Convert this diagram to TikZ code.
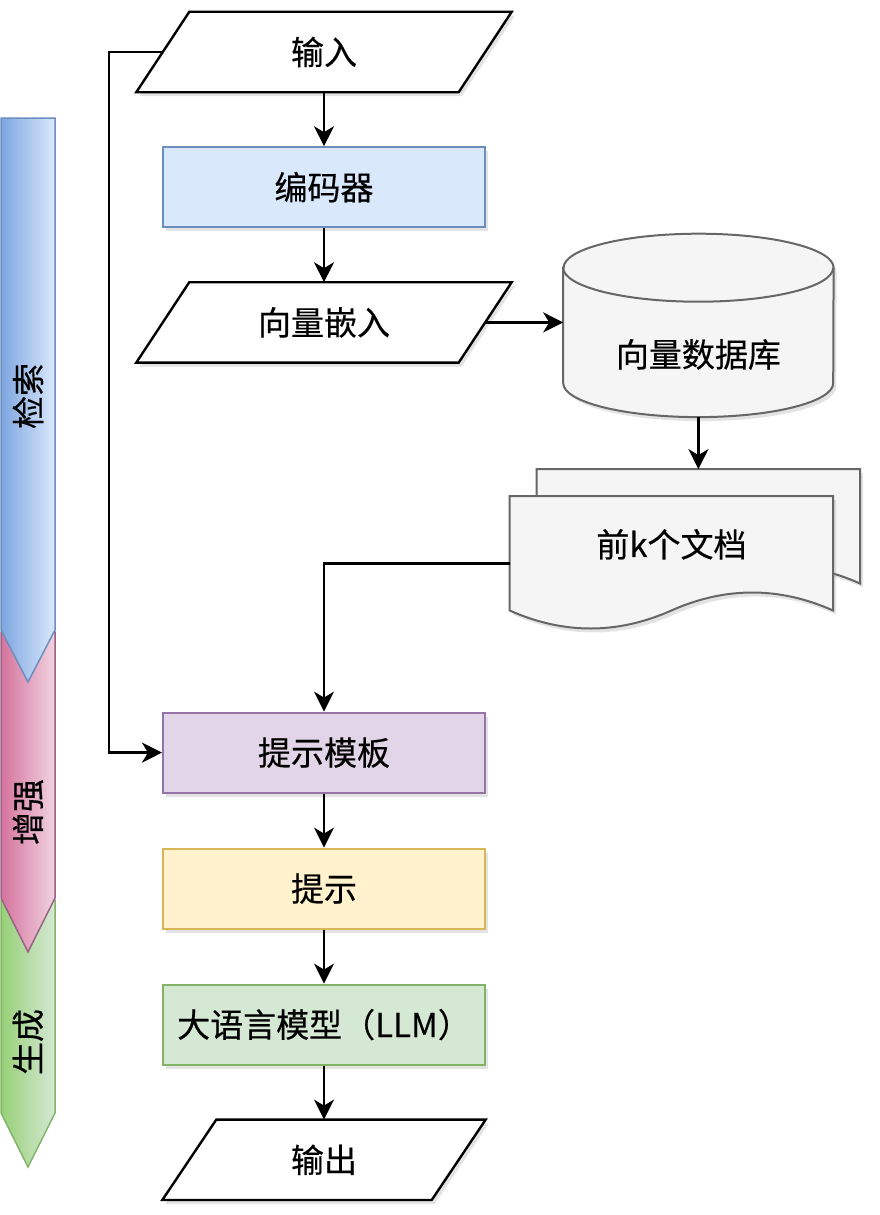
\documentclass[tikz,border=0pt]{standalone}
\usepackage{fontspec}
\setmainfont{Noto Sans CJK SC}[FakeBold=0.4]
\usepackage{xcolor}
\usetikzlibrary{shapes.geometric,arrows.meta,positioning,calc,shadows,backgrounds}

\definecolor{encfill}{HTML}{DAE8FC}
\definecolor{encline}{HTML}{6C8EBF}
\definecolor{tplfill}{HTML}{E1D5E7}
\definecolor{tplline}{HTML}{9673A6}
\definecolor{pmtfill}{HTML}{FFF2CC}
\definecolor{pmtline}{HTML}{D6B656}
\definecolor{llmfill}{HTML}{D5E8D4}
\definecolor{llmline}{HTML}{82B366}
\definecolor{dbfill}{HTML}{F5F5F5}
\definecolor{dbline}{HTML}{666666}
\definecolor{barblue}{HTML}{7EA6E0}
\definecolor{barpink}{HTML}{D5739D}
\definecolor{barpinklt}{HTML}{F0D3E0}
\definecolor{barpinkline}{HTML}{996185}
\definecolor{bargreen}{HTML}{97D077}

\begin{document}
\begin{tikzpicture}[
        x=1pt, y=-1pt,
        node distance=54pt,
        every node/.style={font=\fontsize{33}{38}\selectfont},
        shade/.style={drop shadow={shadow xshift=3pt, shadow yshift=-4pt, opacity=0.22}},
        box/.style={rectangle, draw, line width=2pt, minimum width=322pt, minimum height=80pt, shade},
        io/.style={rectangle, minimum width=322pt, minimum height=80pt},
        ioline/.style={draw, fill=white, line width=2.4pt, line join=miter, shade},
        hidden/.style={rectangle, inner sep=0pt},
        shapeline/.style={draw=dbline, fill=dbfill, line width=2pt, shade},
        bar/.style={line width=1.5pt},
        barlabel/.style={rotate=90},
        arrow/.style={-{Stealth[length=20pt, width=20pt, inset=6pt]}, line width=2.4pt}
    ]
        \useasboundingbox (0,0) rectangle (880,1215);
        % phase bars on the left
        \draw[bar, draw=llmline, left color=bargreen, right color=llmfill]
            (1,900) -- (55,900) -- (55,1113) -- (28,1167) -- (1,1113) -- cycle;
        \draw[bar, draw=barpinkline, left color=barpink, right color=barpinklt]
            (1,632) -- (55,632) -- (55,898) -- (28,952) -- (1,898) -- cycle;
        \draw[bar, draw=encline, left color=barblue, right color=encfill]
            (1,118) -- (55,118) -- (55,630) -- (28,682) -- (1,630) -- cycle;
        \node[barlabel] (retrieve) at (28,396) {检索};
        \node[barlabel] (augment) at (28,812) {增强};
        \node[barlabel] (generate) at (28,1042) {生成};
        % main flow
        \node[io] (input) at (324,52) {输入};
        \node[box, fill=encfill, draw=encline, below=of input] (encoder) {编码器};
        \node[io, below=of encoder] (embed) {向量嵌入};
        \node[hidden, minimum width=270pt, minimum height=183pt, right=78pt of embed, yshift=-3pt,
            label={[yshift=-29pt]center:向量数据库}] (db) {};
        \node[hidden, minimum width=323pt, minimum height=134pt, below=52pt of db] (docsback) {};
        \node[hidden, minimum width=323pt, minimum height=134pt,
            label={[yshift=19pt]center:前k个文档}] (docs) at ($(docsback)+(-27,27)$) {};
        \node[box, fill=tplfill, draw=tplline, below=349pt of embed] (template) {提示模板};
        \node[box, fill=pmtfill, draw=pmtline, below=of template] (prompt) {提示};
        \node[box, fill=llmfill, draw=llmline, below=of prompt] (llm) {大语言模型（LLM）};
        \node[io, minimum width=269pt, below=of llm] (output) {输出};
        % parallelograms, cylinder and document stack
        \begin{scope}[on background layer]
            \foreach \n/\s in {input/26.5, embed/26.5, output/27}
                \draw[ioline] ($(\n.north west)+(\s,0)$) -- ($(\n.north east)+(\s,0)$)
                    -- ($(\n.south east)+(-\s,0)$) -- ($(\n.south west)+(-\s,0)$) -- cycle;
            \draw[shapeline] ($(db.north west)+(0,34)$) -- ($(db.south west)+(0,-34)$)
                arc (180:360:135pt and 34pt) -- ($(db.north east)+(0,34)$)
                arc (0:180:135pt and 34pt) -- cycle;
            \draw[draw=dbline, line width=2pt] ($(db.north west)+(0,34)$) arc (180:360:135pt and 34pt);
            \draw[shapeline] (docsback.north west) -- (docsback.north east) -- ($(docsback.south east)+(0,-20)$)
                .. controls +(-54,-24) and +(54,-24) .. ($(docsback.south)+(0,-20)$)
                .. controls +(-54,24) and +(54,24) .. ($(docsback.south west)+(0,-20)$) -- cycle;
            \draw[shapeline] (docs.north west) -- (docs.north east) -- ($(docs.south east)+(0,-20)$)
                .. controls +(-54,-24) and +(54,-24) .. ($(docs.south)+(0,-20)$)
                .. controls +(-54,24) and +(54,24) .. ($(docs.south west)+(0,-20)$) -- cycle;
        \end{scope}
        % connectors
        \draw[arrow] (input) -- (encoder);
        \draw[arrow] (encoder) -- (embed);
        \draw[arrow] (embed.east) -- (embed.east -| db.west);
        \draw[arrow] (db.south) -- (docsback.north);
        \draw[arrow] (docs.west) -| (template.north);
        \draw[arrow] (input.west) -- ++(-54,0) |- (template.west);
        \draw[arrow] (template) -- (prompt);
        \draw[arrow] (prompt) -- (llm);
        \draw[arrow] (llm) -- (output);
    \end{tikzpicture}
\end{document}
